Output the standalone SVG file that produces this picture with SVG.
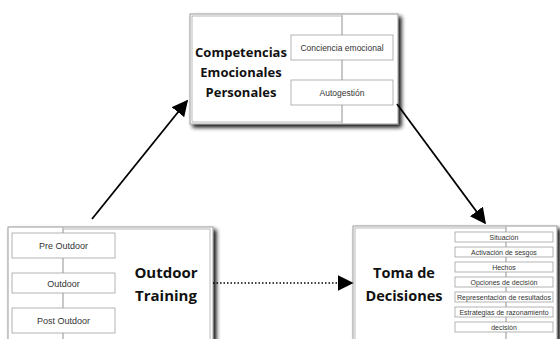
<svg xmlns="http://www.w3.org/2000/svg" width="560" height="339" viewBox="0 0 560 339">
  <defs>
    <filter id="shadow" x="-10%" y="-10%" width="130%" height="130%">
      <feGaussianBlur in="SourceAlpha" stdDeviation="2"/>
      <feOffset dx="3" dy="3" result="b"/>
      <feComponentTransfer><feFuncA type="linear" slope="0.95"/></feComponentTransfer>
      <feMerge><feMergeNode/><feMergeNode in="SourceGraphic"/></feMerge>
    </filter>
    <marker id="headBig" viewBox="0 0 10 10" refX="9" refY="5" markerWidth="16" markerHeight="16" orient="auto" markerUnits="userSpaceOnUse">
      <path d="M0,0 L10,5 L0,10 Z" fill="#000"/>
    </marker>
    <style>
      .frame { fill: #fff; stroke: #9a9a9a; stroke-width: 1; }
      .inner { fill: none; stroke: #a8a8a8; stroke-width: 0.8; }
      .spine { stroke: #a8a8a8; stroke-width: 0.8; }
      .item { fill: #fff; stroke: #a0a0a0; stroke-width: 0.8; }
      .title { font-family: "Open Sans", "Liberation Sans", sans-serif; font-weight: bold; fill: #111; text-anchor: middle; }
      .label { font-family: "Liberation Sans", sans-serif; fill: #333333; text-anchor: middle; }
      .conn { stroke: #000; stroke-width: 1.8; fill: none; }
    </style>
  </defs>

  <g id="competencias">
    <rect class="frame" x="190" y="14" width="208" height="110" filter="url(#shadow)"/>
    <rect class="inner" x="192" y="16" width="150" height="106"/>
    <line class="spine" x1="342" y1="14" x2="342" y2="124"/>
    <rect class="item" x="291" y="35" width="102" height="25"/>
    <rect class="item" x="291" y="80" width="102" height="25"/>
    <text class="label" x="342" y="50.5" font-size="8.5">Conciencia emocional</text>
    <text class="label" x="342" y="95.5" font-size="8.5">Autogestión</text>
    <text class="title" x="241" y="57" font-size="13">Competencias</text>
    <text class="title" x="241" y="77" font-size="13">Emocionales</text>
    <text class="title" x="241" y="97" font-size="13">Personales</text>
  </g>

  <g id="outdoor">
    <rect class="frame" x="8" y="227" width="205" height="118" filter="url(#shadow)"/>
    <rect class="inner" x="63" y="229" width="147" height="114"/>
    <line class="spine" x1="63" y1="227" x2="63" y2="339"/>
    <rect class="item" x="12" y="233" width="103" height="25"/>
    <rect class="item" x="12" y="273" width="103" height="20"/>
    <rect class="item" x="12" y="308" width="103" height="25"/>
    <text class="label" x="63.5" y="248.5" font-size="9">Pre Outdoor</text>
    <text class="label" x="63.5" y="286.5" font-size="9">Outdoor</text>
    <text class="label" x="63.5" y="323.5" font-size="9">Post Outdoor</text>
    <text class="title" x="166" y="278" font-size="15">Outdoor</text>
    <text class="title" x="166" y="301" font-size="15">Training</text>
  </g>

  <g id="decisiones">
    <rect class="frame" x="353" y="226" width="204" height="118" filter="url(#shadow)"/>
    <rect class="inner" x="355" y="228" width="151" height="114"/>
    <line class="spine" x1="506" y1="226" x2="506" y2="339"/>
    <rect class="item" x="455" y="232" width="98" height="10"/>
    <rect class="item" x="455" y="247" width="98" height="10"/>
    <rect class="item" x="455" y="262" width="98" height="10"/>
    <rect class="item" x="455" y="277" width="98" height="10"/>
    <rect class="item" x="455" y="292" width="98" height="10"/>
    <rect class="item" x="455" y="307" width="98" height="10"/>
    <rect class="item" x="455" y="322" width="98" height="10"/>
    <text class="label" x="504" y="239.6" font-size="7">Situación</text>
    <text class="label" x="504" y="254.6" font-size="7">Activación de sesgos</text>
    <text class="label" x="504" y="269.6" font-size="7">Hechos</text>
    <text class="label" x="504" y="284.6" font-size="7">Opciones de decisión</text>
    <text class="label" x="504" y="299.6" font-size="7" textLength="94" lengthAdjust="spacingAndGlyphs">Representación de resultados</text>
    <text class="label" x="504" y="314.6" font-size="7">Estrategias de razonamiento</text>
    <text class="label" x="504" y="329.6" font-size="7">decisión</text>
    <text class="title" x="404" y="278" font-size="14.5">Toma de</text>
    <text class="title" x="404" y="301" font-size="14.5">Decisiones</text>
  </g>

  <g id="connectors">
    <line class="conn" x1="92" y1="219" x2="187" y2="101" marker-end="url(#headBig)"/>
    <line class="conn" x1="397" y1="104" x2="485" y2="223" marker-end="url(#headBig)"/>
    <line x1="213" y1="283" x2="352" y2="283" stroke="#000" stroke-width="1.5" stroke-dasharray="1.5 2" marker-end="url(#headBig)"/>
  </g>
</svg>
